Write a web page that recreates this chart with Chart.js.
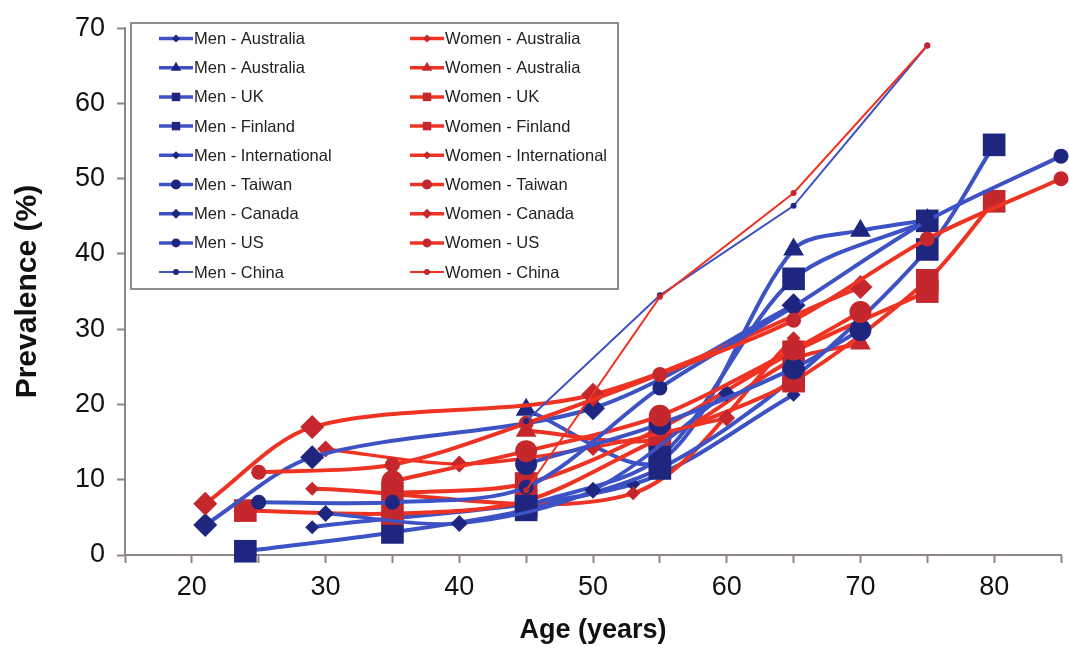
<!DOCTYPE html>
<html>
<head>
<meta charset="utf-8">
<script src="https://cdn.jsdelivr.net/npm/chart.js@4/dist/chart.umd.min.js"></script>
<style>
  html, body { margin: 0; padding: 0; background: #fff; }
  #wrap { width: 1069px; height: 649px; }
</style>
</head>
<body>
<div id="wrap"><canvas id="chart" width="1069" height="649"></canvas></div>
<script>
// values (age in years, prevalence in %)
const menAus1Age = [29, 53, 65];
const menAus1Val = [3.7, 9.4, 21.3];
const menAus2Age = [45, 55, 65, 70, 75];
const menAus2Val = [19.3, 12.5, 40.6, 43.1, 44.5];
const menUkAge = [24, 35, 45, 55, 65, 75, 80];
const menUkVal = [0.5, 3, 6, 11.5, 23.5, 40.6, 54.5];
const menFinAge = [45, 55, 65, 75];
const menFinVal = [6.5, 13, 36.7, 44.4];
const menIntAge = [30, 40, 50, 60];
const menIntVal = [5.5, 4.2, 8.6, 21.5];
const menTwAge = [45, 55, 65, 70];
const menTwVal = [12.1, 17.4, 24.8, 29.9];
const menCanAge = [21, 29, 50, 65];
const menCanVal = [4, 13, 19.5, 33.2];
const menUsAge = [25, 35, 45, 55, 65, 75, 85];
const menUsVal = [7, 7, 9, 22.2, 33, 44.4, 53];
const menChAge = [45, 55, 65, 75];
const menChVal = [17.8, 34.5, 46.4, 67.7];

const womAus1Age = [29, 53, 65];
const womAus1Val = [8.8, 8.2, 28.8];
const womAus2Age = [45, 55, 65, 70];
const womAus2Val = [16.5, 15.5, 26, 28.1];
const womUkAge = [24, 35, 45, 55, 65, 75, 80];
const womUkVal = [5.9, 5.5, 7.2, 15.5, 23.1, 36.5, 47];
const womFinAge = [35, 45, 55, 65, 75];
const womFinVal = [8.2, 9.5, 16.8, 27, 35];
const womIntAge = [30, 40, 50, 60];
const womIntVal = [14.1, 12.1, 14.3, 18.2];
const womTwAge = [35, 45, 55, 65, 70];
const womTwVal = [9.8, 13.8, 18.5, 27.3, 32.3];
const womCanAge = [21, 29, 50, 70];
const womCanVal = [6.8, 17, 21.3, 35.6];
const womUsAge = [25, 35, 45, 55, 65, 75, 85];
const womUsVal = [11, 12, 17.5, 24, 31.2, 42, 50];
const womChAge = [45, 55, 65, 75];
const womChVal = [8.6, 34.3, 48.1, 67.7];

const FONT = "'Liberation Sans', Arial, sans-serif";
const MEN_LINE = "#3d52c4", MEN_MARK = "#1f2680";
const WOM_LINE = "#ef3323", WOM_MARK = "#c4272c";
const AXIS = "#8e8585";

function series(label, ages, vals, women, style, radius, legendRadius, width) {
  return {
    label: label,
    data: ages.map((a, i) => ({ x: a, y: vals[i] })),
    borderColor: women ? WOM_LINE : MEN_LINE,
    borderWidth: width,
    pointBackgroundColor: women ? WOM_MARK : MEN_MARK,
    pointBorderWidth: 0,
    pointStyle: style,
    pointRadius: radius,
    pointHoverRadius: radius,
    legendRadius: legendRadius,
    tension: width > 2 ? 0.3 : 0,
    fill: false,
    clip: false
  };
}

const menSets = [
  series("Men - Australia", menAus1Age, menAus1Val, false, "rectRot", 7, 4, 4),
  series("Men - Australia", menAus2Age, menAus2Val, false, "triangle", 12, 6, 4),
  series("Men - UK", menUkAge, menUkVal, false, "rect", 16, 6, 4),
  series("Men - Finland", menFinAge, menFinVal, false, "rect", 16, 6, 4),
  series("Men - International", menIntAge, menIntVal, false, "rectRot", 8.5, 4, 3.5),
  series("Men - Taiwan", menTwAge, menTwVal, false, "circle", 11, 5, 4),
  series("Men - Canada", menCanAge, menCanVal, false, "rectRot", 12, 5, 4),
  series("Men - US", menUsAge, menUsVal, false, "circle", 7.5, 4.5, 4),
  series("Men - China", menChAge, menChVal, false, "circle", 3, 3, 2)
];
const womSets = [
  series("Women - Australia", womAus1Age, womAus1Val, true, "rectRot", 7, 4, 4),
  series("Women - Australia", womAus2Age, womAus2Val, true, "triangle", 12, 6, 4),
  series("Women - UK", womUkAge, womUkVal, true, "rect", 16, 6, 4),
  series("Women - Finland", womFinAge, womFinVal, true, "rect", 16, 6, 4),
  series("Women - International", womIntAge, womIntVal, true, "rectRot", 8.5, 4, 3.5),
  series("Women - Taiwan", womTwAge, womTwVal, true, "circle", 11, 5, 4),
  series("Women - Canada", womCanAge, womCanVal, true, "rectRot", 12, 5, 4),
  series("Women - US", womUsAge, womUsVal, true, "circle", 7.5, 4.5, 4),
  series("Women - China", womChAge, womChVal, true, "circle", 3, 3, 2)
];
// excel plotted men/women interleaved, later series on top
menSets.forEach((d, i) => { d.order = -(2 * i); });
womSets.forEach((d, i) => { d.order = -(2 * i + 1); });
const datasets = menSets.concat(womSets);

// boxed two-column legend in the upper left of the plot
const boxLegend = {
  id: "boxLegend",
  afterDatasetsDraw(chart) {
    const c = chart.ctx;
    const drawPoint = Chart.helpers && Chart.helpers.drawPoint;
    c.save();
    c.fillStyle = "#fff";
    c.fillRect(131, 23, 487, 266);
    c.strokeStyle = "#858080";
    c.lineWidth = 1.8;
    c.strokeRect(131, 23, 487, 266);
    chart.data.datasets.forEach((ds, i) => {
      const col = i < 9 ? 0 : 1;
      const row = i % 9;
      const x0 = col ? 410 : 159;
      const y = 38.5 + row * 29.2;
      c.strokeStyle = ds.borderColor;
      c.lineWidth = ds.borderWidth > 2 ? 3.5 : 2;
      c.beginPath();
      c.moveTo(x0, y);
      c.lineTo(x0 + 34, y);
      c.stroke();
      c.fillStyle = ds.pointBackgroundColor;
      if (drawPoint) {
        drawPoint(c, { pointStyle: ds.pointStyle, radius: ds.legendRadius, rotation: 0, borderWidth: 0 }, x0 + 17, y);
      }
      c.fillStyle = "#222";
      c.font = "16.5px " + FONT;
      c.textBaseline = "middle";
      c.textAlign = "left";
      c.fillText(ds.label, x0 + 35, y + 1);
    });
    c.restore();
  }
};

new Chart(document.getElementById("chart").getContext("2d"), {
  type: "line",
  data: { datasets: datasets },
  options: {
    responsive: false,
    animation: false,
    layout: { autoPadding: false, padding: { top: 23, right: 8, left: 0, bottom: 0 } },
    plugins: { legend: { display: false }, tooltip: { enabled: false } },
    scales: {
      x: {
        type: "linear",
        min: 15,
        max: 85,
        afterFit: (s) => { s.height = 94; s.paddingRight = 0; s.paddingLeft = 0; },
        ticks: {
          stepSize: 5,
          autoSkip: false,
          maxRotation: 0,
          padding: 8,
          color: "#111",
          font: { family: FONT, size: 27 },
          callback: (v) => (v % 10 === 0 && v >= 20 && v <= 80 ? String(v) : "")
        },
        grid: { drawOnChartArea: false, tickLength: 8, tickWidth: 2, tickColor: AXIS },
        border: { color: AXIS, width: 2 },
        title: {
          display: true,
          text: "Age (years)",
          color: "#111",
          font: { family: FONT, size: 27, weight: "bold" },
          padding: { top: 0, bottom: 2 }
        }
      },
      y: {
        min: 0,
        max: 70,
        afterFit: (s) => { s.width = 125; },
        ticks: {
          stepSize: 10,
          padding: 12,
          color: "#111",
          font: { family: FONT, size: 27 }
        },
        grid: { drawOnChartArea: false, tickLength: 8, tickWidth: 2, tickColor: AXIS },
        border: { color: AXIS, width: 2 },
        title: {
          display: true,
          text: "Prevalence (%)",
          color: "#111",
          font: { family: FONT, size: 30, weight: "bold" },
          padding: { top: 10, bottom: 0 }
        }
      }
    }
  },
  plugins: [boxLegend]
});
</script>
</body>
</html>
